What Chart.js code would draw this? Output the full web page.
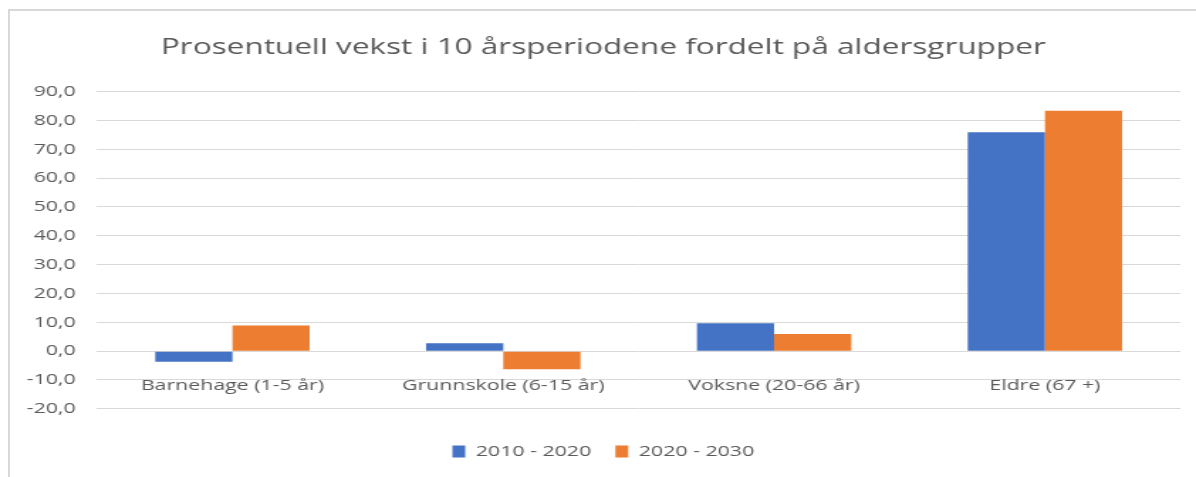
<!DOCTYPE html>
<html>
<head>
<meta charset="utf-8">
<script src="https://cdn.jsdelivr.net/npm/chart.js@4"></script>
<style>
	html, body { margin: 0; padding: 0; background: #fff; overflow: hidden; }
	#frame {
		position: absolute; left: 8px; top: 9px; width: 1300px; height: 600px;
		border-left: 2px solid #d9d9d9; border-top: 2px solid #d9d9d9;
	}
	/* the reference picture is stretched sideways, so draw narrow and stretch */
	#wrap {
		position: absolute; left: 0; top: 0; width: 842px; height: 477px;
		transform: scaleX(1.4204); transform-origin: 0 0;
	}
</style>
</head>
<body>
<div id="frame"></div>
<div id="wrap"><canvas id="growth-by-age"></canvas></div>
<script>
let categories = ['Barnehage (1-5 år)', 'Grunnskole (6-15 år)', 'Voksne (20-66 år)', 'Eldre (67 +)']
let growth2010 = [-3.7, 2.7, 9.7, 75.9]
let growth2020 = [8.9, -6.3, 5.9, 83.4]
let seriesLabels = ['2010 - 2020', '2020 - 2030']

let textColor = '#595959'
let gridColor = '#d9d9d9'

let growthByAge = document.getElementById('growth-by-age').getContext('2d')

let growthByAgeChart = new Chart(growthByAge, {
	type: 'bar',
	data: {
		labels: categories,
		datasets: [
			{
				label: seriesLabels[0],
				data: growth2010,
				backgroundColor: '#4472c4',
				categoryPercentage: 0.57,
				barPercentage: 1.0
			},
			{
				label: seriesLabels[1],
				data: growth2020,
				backgroundColor: '#ed7d31',
				categoryPercentage: 0.57,
				barPercentage: 1.0
			}
		]
	},
	options: {
		responsive: true,
		maintainAspectRatio: false,
		animation: false,
		layout: {
			// left padding nudges title and legend right, like the original
			padding: { left: 18.5, right: 11, top: 0, bottom: 8 }
		},
		scales: {
			y: {
				min: -20,
				max: 90,
				afterFit: function (scale) {
					scale.width = 49.8
				},
				ticks: {
					stepSize: 10,
					padding: 15,
					color: textColor,
					font: { family: 'Open Sans', size: 15 },
					callback: function (value) {
						return value.toFixed(1).replace('.', ',')
					}
				},
				grid: {
					color: gridColor,
					drawTicks: false
				},
				border: {
					display: false
				}
			},
			x: {
				position: { y: 0 },
				ticks: {
					padding: 18,
					maxRotation: 0,
					autoSkip: false,
					color: textColor,
					font: { family: 'Open Sans', size: 15 }
				},
				grid: {
					display: false
				},
				border: {
					display: false
				}
			}
		},
		plugins: {
			title: {
				display: true,
				text: 'Prosentuell vekst i 10 årsperiodene fordelt på aldersgrupper',
				color: textColor,
				font: { family: 'Open Sans', size: 22.2, weight: 'normal' },
				padding: { top: 34, bottom: 31 }
			},
			legend: {
				position: 'bottom',
				title: {
					display: true,
					text: '',
					font: { size: 1 },
					padding: { top: 17, bottom: 0 }
				},
				labels: {
					boxWidth: 9,
					boxHeight: 12,
					padding: 17,
					color: textColor,
					font: { family: 'Open Sans', size: 15 }
				}
			},
			tooltip: {
				enabled: false
			}
		}
	}
});
</script>
</body>
</html>
